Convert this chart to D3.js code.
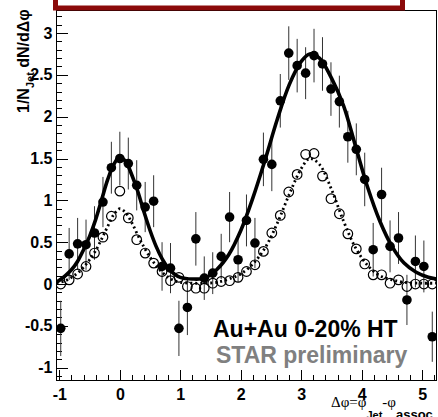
<!DOCTYPE html>
<html lang="en">
<head>
<meta charset="utf-8">
<title>Au+Au 0-20% HT jet-hadron correlation</title>
<script src="https://d3js.org/d3.v7.min.js"></script>
<style>
  html, body {
    margin: 0;
    padding: 0;
    background: #fff;
  }
  text {
    font-family: "Liberation Sans", Arial, Helvetica, sans-serif;
    font-weight: bold;
  }
  .tick line { stroke: #000; shape-rendering: crispEdges; }
  .frame { fill: none; stroke: #000; stroke-width: 1; shape-rendering: crispEdges; }
  .err { stroke: #333; stroke-width: 1; }
  .fit { fill: none; stroke: #000; stroke-width: 3.6; }
  .fit.dotted { stroke-width: 2.8; stroke-dasharray: 2 3; }
</style>
</head>
<body>
<script>

// bin centres (delta phi, rad)
var dphi = [-0.977, -0.838, -0.698, -0.559, -0.419, -0.279, -0.140, 0.000, 0.140, 0.279,
            0.419, 0.559, 0.698, 0.838, 0.977, 1.117, 1.257, 1.396, 1.536, 1.676,
            1.815, 1.955, 2.094, 2.234, 2.374, 2.513, 2.653, 2.793, 2.932, 3.072,
            3.211, 3.351, 3.491, 3.630, 3.770, 3.910, 4.049, 4.189, 4.328, 4.468,
            4.608, 4.747, 4.887, 5.027, 5.166];

// filled points + errors
var filledVal = [-0.53, 0.36, 0.48, 0.47, 0.61, 0.98, 1.39, 1.50, 1.44, 1.18,
                 0.92, 0.99, 0.21, 0.19, -0.53, -0.28, 0.54, 0.07, 0.13, 0.33,
                 0.80, 0.29, 0.76, 0.49, 1.49, 1.43, 2.19, 2.76, 2.61, 2.52,
                 2.73, 2.63, 2.33, 2.18, 1.76, 1.61, 1.25, 0.41, 1.07, 0.45,
                 0.55, -0.19, 0.27, 0.21, -0.63];
var filledErr = [0.33, 0.31, 0.31, 0.30, 0.32, 0.30, 0.31, 0.32, 0.31, 0.30,
                 0.30, 0.31, 0.29, 0.30, 0.33, 0.33, 0.32, 0.26, 0.25, 0.27,
                 0.30, 0.27, 0.31, 0.30, 0.32, 0.32, 0.32, 0.32, 0.32, 0.31,
                 0.32, 0.32, 0.32, 0.31, 0.31, 0.31, 0.32, 0.32, 0.32, 0.31,
                 0.31, 0.30, 0.31, 0.31, 0.30];

// open points
var openVal = [0.00, 0.05, 0.12, 0.21, 0.37, 0.56, 0.81, 1.11, 0.79, 0.53,
               0.37, 0.25, 0.15, 0.04, 0.08, -0.03, -0.05, -0.05, 0.01, 0.03,
               0.04, 0.08, 0.15, 0.23, 0.39, 0.61, 0.82, 1.10, 1.31, 1.55,
               1.56, 1.29, 1.02, 0.84, 0.60, 0.42, 0.24, 0.11, 0.11, 0.01,
               0.05, -0.03, 0.00, 0.00, 0.00];

// fit to filled points (solid)
var solidX = [-1.047, -0.9, -0.8, -0.7, -0.6, -0.5, -0.4, -0.3, -0.2, -0.1, 0.0,
              0.1, 0.2, 0.3, 0.4, 0.5, 0.6, 0.7, 0.8, 0.9, 1.0, 1.2, 1.4,
              1.6, 1.8, 2.0, 2.2, 2.4, 2.6, 2.8, 3.0, 3.14, 3.3, 3.5, 3.7,
              3.9, 4.1, 4.3, 4.5, 4.7, 4.9, 5.1, 5.236];
var solidY = [0.02, 0.10, 0.17, 0.27, 0.41, 0.57, 0.77, 1.01, 1.25, 1.43, 1.52,
              1.46, 1.30, 1.10, 0.86, 0.64, 0.45, 0.30, 0.19, 0.12, 0.08, 0.06, 0.07,
              0.17, 0.35, 0.64, 1.03, 1.48, 1.96, 2.38, 2.66, 2.75, 2.70, 2.46, 2.13,
              1.64, 1.15, 0.75, 0.45, 0.25, 0.14, 0.08, 0.06];

// fit to open points (dotted)
var dottedX = [-1.047, -0.9, -0.8, -0.7, -0.6, -0.5, -0.4, -0.3, -0.2, -0.1, 0.0,
               0.1, 0.2, 0.3, 0.4, 0.5, 0.6, 0.7, 0.8, 0.9, 1.0, 1.2, 1.4,
               1.6, 1.8, 2.0, 2.2, 2.4, 2.6, 2.8, 3.0, 3.14, 3.3, 3.5, 3.7,
               3.9, 4.1, 4.3, 4.5, 4.7, 5.0, 5.236];
var dottedY = [0.01, 0.04, 0.08, 0.13, 0.20, 0.29, 0.40, 0.54, 0.69, 0.83, 0.90,
               0.85, 0.73, 0.58, 0.44, 0.32, 0.22, 0.14, 0.08, 0.04, 0.02, 0.01, 0.01,
               0.02, 0.06, 0.12, 0.24, 0.43, 0.72, 1.07, 1.38, 1.50, 1.43, 1.13, 0.75,
               0.43, 0.22, 0.10, 0.05, 0.02, 0.01, 0.01];

var xTicks = [-1, 0, 1, 2, 3, 4, 5];
var yTicks = [-1, -0.5, 0, 0.5, 1, 1.5, 2, 2.5, 3];

var width = 438, height = 417;
var margin = {left: 56.5, right: 1.5, top: 10, bottom: 37};

var x = d3.scaleLinear()
  .domain([-Math.PI / 3, 5 * Math.PI / 3])
  .range([margin.left, width - margin.right]);
var y = d3.scaleLinear()
  .domain([-1.147, 3.275])
  .range([height - margin.bottom, margin.top]);

var svg = d3.select("body").append("svg")
  .attr("width", width)
  .attr("height", height);

svg.append("defs").append("clipPath").attr("id", "plot")
  .append("rect")
  .attr("x", margin.left).attr("y", margin.top)
  .attr("width", width - margin.left - margin.right)
  .attr("height", height - margin.top - margin.bottom);

// axes
var fmt = function(d) { return String(d); };
var yMinor = d3.range(-11, 33).filter(function(i) { return i % 5 !== 0; }).map(function(i) { return i / 10; });
var xMinor = d3.range(-5, 27).filter(function(i) { return i % 5 !== 0; }).map(function(i) { return i / 5; });

svg.append("g")
  .attr("transform", "translate(" + margin.left + ",0)")
  .call(d3.axisLeft(y).tickValues(yTicks).tickSize(-11).tickPadding(4).tickFormat(fmt))
  .call(function(g) { g.select(".domain").remove(); })
  .selectAll("text").style("font-size", "16px").attr("fill", "#000");

svg.append("g")
  .attr("transform", "translate(" + margin.left + ",0)")
  .call(d3.axisLeft(y).tickValues(yMinor).tickSize(-5.5).tickFormat(""))
  .call(function(g) { g.select(".domain").remove(); });

svg.append("g")
  .attr("transform", "translate(0," + (height - margin.bottom) + ")")
  .call(d3.axisBottom(x).tickValues(xTicks).tickSize(-10).tickPadding(4).tickFormat(fmt))
  .call(function(g) { g.select(".domain").remove(); })
  .selectAll("text").style("font-size", "16px").attr("fill", "#000").attr("dy", "1em");

svg.append("g")
  .attr("transform", "translate(0," + (height - margin.bottom) + ")")
  .call(d3.axisBottom(x).tickValues(xMinor).tickSize(-5).tickFormat(""))
  .call(function(g) { g.select(".domain").remove(); });

svg.append("rect").attr("class", "frame")
  .attr("x", margin.left).attr("y", margin.top)
  .attr("width", width - margin.left - margin.right)
  .attr("height", height - margin.top - margin.bottom);

// data
var plot = svg.append("g").attr("clip-path", "url(#plot)");

var filled = dphi.map(function(d, i) { return {x: d, y: filledVal[i], e: filledErr[i]}; });
var open = dphi.map(function(d, i) { return {x: d, y: openVal[i]}; });

plot.selectAll("line.err").data(filled).enter().append("line")
  .attr("class", "err")
  .attr("x1", function(d) { return x(d.x); })
  .attr("x2", function(d) { return x(d.x); })
  .attr("y1", function(d) { return y(d.y - d.e); })
  .attr("y2", function(d) { return y(d.y + d.e); });

var line = d3.line()
  .x(function(d) { return x(d[0]); })
  .y(function(d) { return y(d[1]); })
  .curve(d3.curveCatmullRom.alpha(0.5));

plot.append("path").attr("class", "fit")
  .attr("d", line(d3.zip(solidX, solidY)));

plot.selectAll("circle.open").data(open).enter().append("circle")
  .attr("class", "open")
  .attr("cx", function(d) { return x(d.x); })
  .attr("cy", function(d) { return y(d.y); })
  .attr("r", 4.8)
  .attr("fill", "none")
  .attr("stroke", "#000")
  .attr("stroke-width", 1.2);

plot.append("path").attr("class", "fit dotted")
  .attr("d", line(d3.zip(dottedX, dottedY)));

plot.selectAll("circle.filled").data(filled).enter().append("circle")
  .attr("class", "filled")
  .attr("cx", function(d) { return x(d.x); })
  .attr("cy", function(d) { return y(d.y); })
  .attr("r", 4.8)
  .attr("fill", "#000");

// labels
svg.append("text")
  .attr("transform", "translate(29,113) rotate(-90)")
  .style("font-size", "16px")
  .call(function(t) {
    t.append("tspan").text("1/N");
    t.append("tspan").attr("dy", 5).style("font-size", "11px").text("Jet");
    t.append("tspan").attr("dy", -5).text(" dN/d\u0394\u03c6");
  });

svg.append("text")
  .attr("x", 331).attr("y", 407)
  .style("font-family", "'Liberation Serif', 'DejaVu Serif', serif")
  .style("font-weight", "normal")
  .style("font-size", "15px")
  .call(function(t) {
    t.append("tspan").text("\u0394\u03c6=\u03c6");
    t.append("tspan").attr("dy", 12).style("font-family", "'Liberation Sans', Arial, sans-serif")
      .style("font-weight", "bold").style("font-size", "11px").text("Jet");
    t.append("tspan").attr("dy", -12).text("-\u03c6");
    t.append("tspan").attr("dy", 12).style("font-family", "'Liberation Sans', Arial, sans-serif")
      .style("font-weight", "bold").style("font-size", "13px").text("assoc.");
  });

svg.append("text")
  .attr("x", 213).attr("y", 337)
  .style("font-size", "23px")
  .attr("fill", "#000")
  .text("Au+Au 0-20% HT");

svg.append("text")
  .attr("x", 216).attr("y", 363)
  .style("font-size", "23px")
  .attr("fill", "#808080")
  .text("STAR preliminary");

// red box at the top, mostly outside the picture
svg.append("rect")
  .attr("x", 55.5).attr("y", -30)
  .attr("width", 347).attr("height", 38)
  .attr("fill", "#fff")
  .attr("stroke", "#8b0a0a")
  .attr("stroke-width", 5);

</script>
</body>
</html>
